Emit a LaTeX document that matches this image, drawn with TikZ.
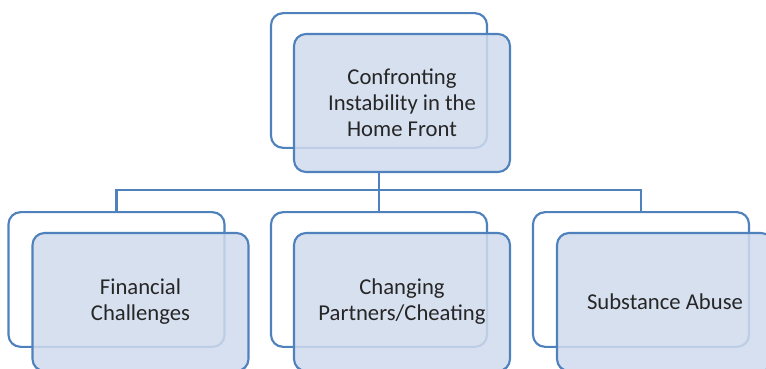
\documentclass[tikz,border=0pt]{standalone}
\usepackage{fontspec}
\setmainfont{Carlito}
\definecolor{edgeblue}{HTML}{4F81BD}
\definecolor{boxfill}{HTML}{D0DBED}
\definecolor{txt}{HTML}{262626}
\begin{document}
\begin{tikzpicture}[x=0.75pt,y=-0.75pt,
  backbox/.style={draw=edgeblue,line width=1.6pt,rounded corners=9pt,fill=white,
     minimum width=162pt,minimum height=101pt,inner sep=0pt},
  frontbox/.style={draw=edgeblue,line width=1.6pt,rounded corners=9pt,fill=boxfill,fill opacity=0.85,text opacity=1,
     minimum width=162pt,minimum height=103.5pt,inner sep=0pt,align=center,text=txt,
     font=\fontsize{17pt}{19.5pt}\selectfont},
  conn/.style={draw=edgeblue,line width=1.6pt}]
\useasboundingbox (0,0) rectangle (766,368);
\coordinate (bus) at (379,190);
% back boxes
\node[backbox] (topB) at (379,80.5) {};
\node[backbox] (b1B) at (116.5,279.5) {};
\node[backbox] (b2B) at (379,279.5) {};
\node[backbox] (b3B) at (641,279.5) {};
% connectors
\draw[conn] (topB.center |- 0,172) -- (bus);
\draw[conn] (b1B.north) |- (bus) -| (b3B.north);
\draw[conn] (bus) -- (b2B.north);
% front boxes
\node[frontbox] (topF) at (402,103) {Confronting\\Instability in the\\Home Front};
\node[frontbox] (b1F) at (140.5,302) {Financial\\Challenges};
\node[frontbox] (b2F) at (402,302) {Changing\\Partners/Cheating};
\node[frontbox] (b3F) at (665,302) {Substance Abuse};
\end{tikzpicture}
\end{document}
